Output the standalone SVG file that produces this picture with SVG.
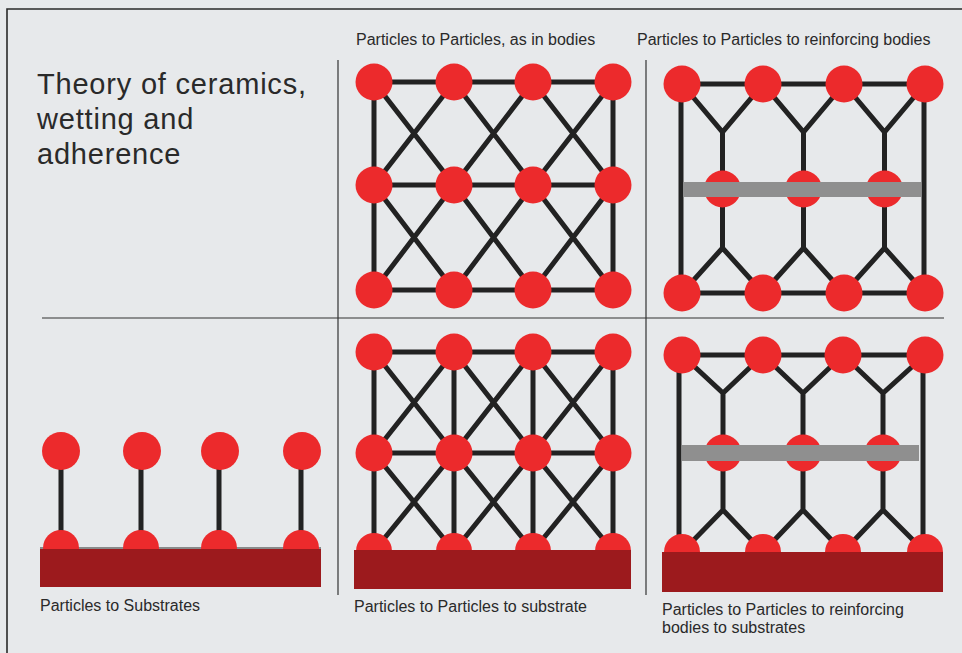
<svg xmlns="http://www.w3.org/2000/svg" width="962" height="653" viewBox="0 0 962 653">
<style>
.bg{fill:#e7e9eb}
.frame{stroke:#2a2a2a;stroke-width:1.6;fill:none}
.div{stroke:#333;stroke-width:1.2;fill:none}
.ln{stroke:#222;stroke-width:5;fill:none;stroke-linecap:butt}
.edge{stroke:#6a6a6a;stroke-width:1.5;fill:none}
.p{fill:#ec2a2c}
.sub{fill:#9c1a1d}
.bar{fill:#8f8f8f}
.title{font-family:"Liberation Sans",Arial,sans-serif;font-size:29px;letter-spacing:0.8px;fill:#2a2a2a}
.lbl{font-family:"Liberation Sans",Arial,sans-serif;font-size:16px;fill:#2a2a2a}
</style>
<rect class="bg" x="0" y="0" width="962" height="653"/>
<g id="frame">
<path class="frame" d="M7,653 V9 H962"/>
<path class="div" d="M338,60 V595"/>
<path class="div" d="M646,60 V595"/>
<path class="div" d="M42,318 H944"/>
</g>
<g id="title">
<text class="title" x="37" y="94">Theory of ceramics,</text>
<text class="title" x="37" y="129">wetting and</text>
<text class="title" x="37" y="164">adherence</text>
</g>
<g id="labels">
<text class="lbl" x="356" y="45">Particles to Particles, as in bodies</text>
<text class="lbl" x="637" y="45">Particles to Particles to reinforcing bodies</text>
<text class="lbl" x="40" y="611">Particles to Substrates</text>
<text class="lbl" x="354" y="612">Particles to Particles to substrate</text>
<text class="lbl" x="662" y="615">Particles to Particles to reinforcing</text>
<text class="lbl" x="662" y="633">bodies to substrates</text>
</g>
<g id="connectors">
<g id="conn-a">
<path class="ln" d="M374,82 H613 M374,185 H613 M374,290 H613 M374,82 V290 M613,82 V290"/>
<path class="ln" d="M374,82 L454,185 M454,82 L374,185 M454,82 L533,185 M533,82 L454,185 M533,82 L613,185 M613,82 L533,185"/>
<path class="ln" d="M374,185 L454,290 M454,185 L374,290 M454,185 L533,290 M533,185 L454,290 M533,185 L613,290 M613,185 L533,290"/>
</g>
<g id="conn-b">
<path class="ln" d="M682,84 H925 M682,293 H925 M681,84 V293 M924,84 V293"/>
<path class="ln" d="M682,84 L722.5,132 L763,84 M722.5,132 V189 M763,84 L803.5,132 L844,84 M803.5,132 V189 M844,84 L884.5,132 L925,84 M884.5,132 V189"/>
<path class="ln" d="M722.5,189 V248 M682,293 L722.5,248 L763,293 M803.5,189 V248 M763,293 L803.5,248 L844,293 M884.5,189 V248 M844,293 L884.5,248 L925,293"/>
</g>
<g id="conn-c">
<path class="ln" d="M374,352 H613 M374,453 H613 M374,352 V551 M454,352 V551 M533,352 V551 M613,352 V551"/>
<path class="ln" d="M374,352 L454,453 M454,352 L374,453 M454,352 L533,453 M533,352 L454,453 M533,352 L613,453 M613,352 L533,453"/>
<path class="ln" d="M374,453 L454,551 M454,453 L374,551 M454,453 L533,551 M533,453 L454,551 M533,453 L613,551 M613,453 L533,551"/>
</g>
<g id="conn-d">
<path class="ln" d="M682,355 H925 M679,355 V552 M923,355 V552"/>
<path class="ln" d="M682,355 L723,393 L763,355 M723,393 V453 M763,355 L803,393 L843,355 M803,393 V453 M843,355 L883,393 L925,355 M883,393 V453"/>
<path class="ln" d="M723,453 V510 M682,552 L723,510 L763,552 M803,453 V510 M763,552 L803,510 L843,552 M883,453 V510 M843,552 L883,510 L925,552"/>
</g>
<g id="conn-e">
<path class="ln" d="M61,451 V548 M141,451 V548 M219,451 V548 M301,451 V548"/>
</g>
</g>
<g id="panel-a">
<g id="a-r1"><circle class="p" cx="374" cy="82" r="18.5"/><circle class="p" cx="454" cy="82" r="18.5"/><circle class="p" cx="533" cy="82" r="18.5"/><circle class="p" cx="613" cy="82" r="18.5"/></g>
<g id="a-r2"><circle class="p" cx="374" cy="185" r="18.5"/><circle class="p" cx="454" cy="185" r="18.5"/><circle class="p" cx="533" cy="185" r="18.5"/><circle class="p" cx="613" cy="185" r="18.5"/></g>
<g id="a-r3"><circle class="p" cx="374" cy="290" r="18.5"/><circle class="p" cx="454" cy="290" r="18.5"/><circle class="p" cx="533" cy="290" r="18.5"/><circle class="p" cx="613" cy="290" r="18.5"/></g>
</g>
<g id="panel-b">
<g id="b-top"><circle class="p" cx="682" cy="84" r="18.5"/><circle class="p" cx="763" cy="84" r="18.5"/><circle class="p" cx="844" cy="84" r="18.5"/><circle class="p" cx="925" cy="84" r="18.5"/></g>
<g id="b-mid"><circle class="p" cx="722.5" cy="189" r="18.5"/><circle class="p" cx="803.5" cy="189" r="18.5"/><circle class="p" cx="884.5" cy="189" r="18.5"/></g>
<g id="b-body"><rect class="bar" x="683" y="182" width="238" height="15"/></g>
<g id="b-bot"><circle class="p" cx="682" cy="293" r="18.5"/><circle class="p" cx="763" cy="293" r="18.5"/><circle class="p" cx="844" cy="293" r="18.5"/><circle class="p" cx="925" cy="293" r="18.5"/></g>
</g>
<g id="panel-c">
<g id="c-r1"><circle class="p" cx="374" cy="352" r="18.5"/><circle class="p" cx="454" cy="352" r="18.5"/><circle class="p" cx="533" cy="352" r="18.5"/><circle class="p" cx="613" cy="352" r="18.5"/></g>
<g id="c-r2"><circle class="p" cx="374" cy="453" r="18.5"/><circle class="p" cx="454" cy="453" r="18.5"/><circle class="p" cx="533" cy="453" r="18.5"/><circle class="p" cx="613" cy="453" r="18.5"/></g>
<g id="c-r3"><circle class="p" cx="374" cy="551" r="18"/><circle class="p" cx="454" cy="551" r="18"/><circle class="p" cx="533" cy="551" r="18"/><circle class="p" cx="613" cy="551" r="18"/></g>
<g id="c-substrate"><rect class="sub" x="354" y="550" width="277" height="39"/></g>
</g>
<g id="panel-d">
<g id="d-top"><circle class="p" cx="682" cy="355" r="18.5"/><circle class="p" cx="763" cy="355" r="18.5"/><circle class="p" cx="843" cy="355" r="18.5"/><circle class="p" cx="925" cy="355" r="18.5"/></g>
<g id="d-mid"><circle class="p" cx="723" cy="453" r="18.5"/><circle class="p" cx="803" cy="453" r="18.5"/><circle class="p" cx="883" cy="453" r="18.5"/></g>
<g id="d-body"><rect class="bar" x="682" y="445" width="237" height="16"/></g>
<g id="d-bot"><circle class="p" cx="682" cy="552" r="18"/><circle class="p" cx="763" cy="552" r="18"/><circle class="p" cx="843" cy="552" r="18"/><circle class="p" cx="925" cy="552" r="18"/></g>
<g id="d-substrate"><rect class="sub" x="662" y="552" width="281" height="40"/></g>
</g>
<g id="panel-e">
<path class="edge" d="M40,548 H321"/>
<g id="e-top"><circle class="p" cx="61" cy="451" r="19"/><circle class="p" cx="142" cy="451" r="19"/><circle class="p" cx="220" cy="451" r="19"/><circle class="p" cx="302" cy="451" r="19"/></g>
<g id="e-bot"><circle class="p" cx="61" cy="548" r="18"/><circle class="p" cx="141" cy="548" r="18"/><circle class="p" cx="219" cy="548" r="18"/><circle class="p" cx="301" cy="548" r="18"/></g>
<g id="e-substrate"><rect class="sub" x="40" y="549" width="281" height="38"/></g>
</g>
</svg>
